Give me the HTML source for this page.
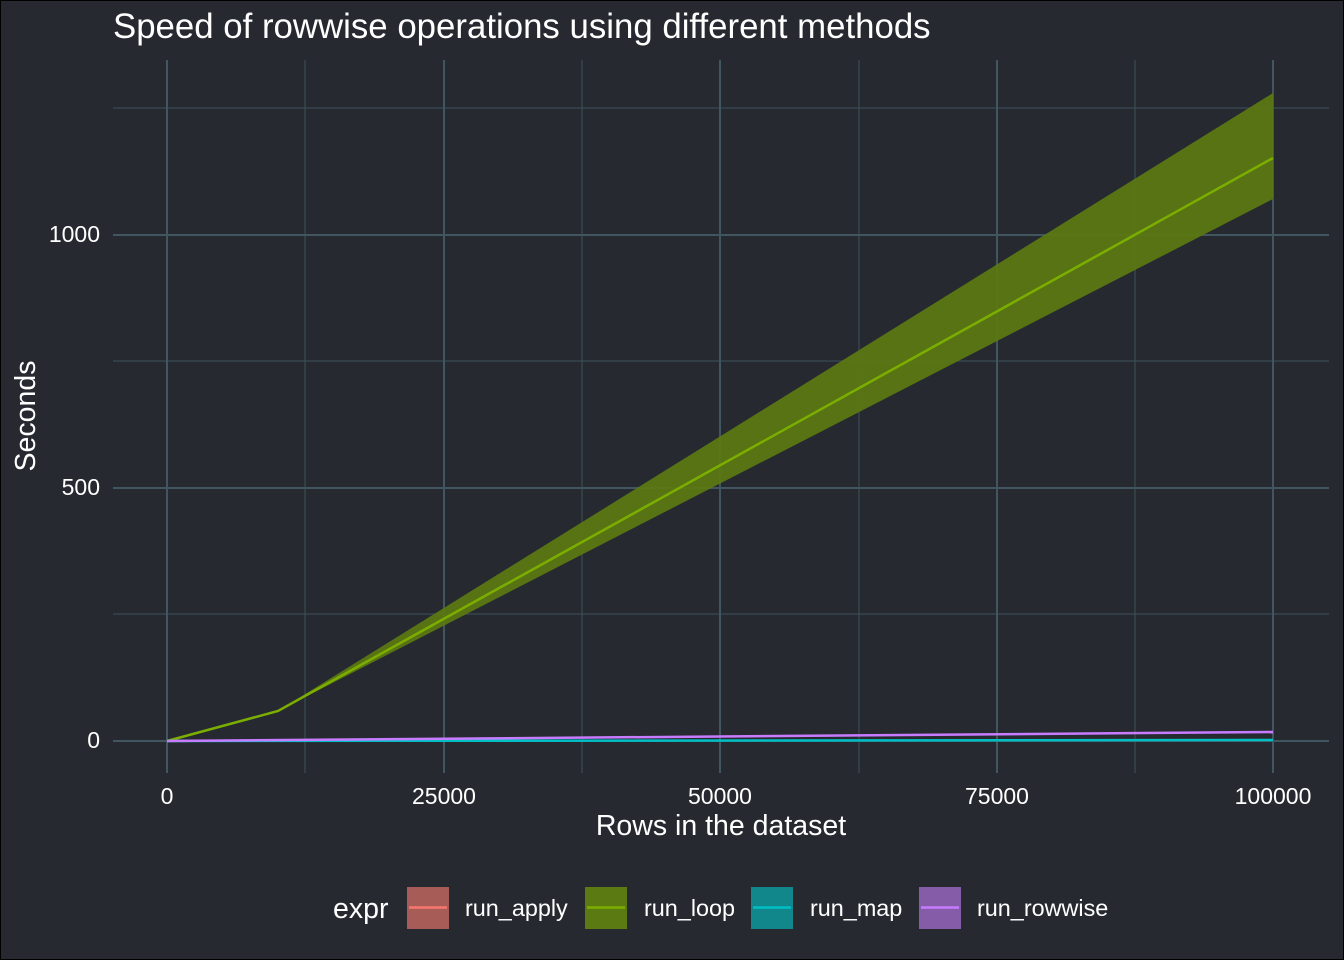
<!DOCTYPE html>
<html><head><style>
html,body{margin:0;padding:0;background:#262a30;}
svg{display:block;}
text{font-family:"Liberation Sans",sans-serif;fill:#ffffff;}
</style></head><body>
<svg width="1344" height="960" viewBox="0 0 1344 960" xmlns="http://www.w3.org/2000/svg">
<rect x="0.5" y="0.5" width="1343" height="959" fill="#262a30" stroke="#000" stroke-width="1"/>
<text x="113" y="38" font-size="34.8" style="font-size:34.8px">Speed of rowwise operations using different methods</text>
<g stroke="#3f515b" stroke-width="1">
<line x1="113" x2="1329" y1="614" y2="614"/>
<line x1="113" x2="1329" y1="361" y2="361"/>
<line x1="113" x2="1329" y1="108" y2="108"/>
<line x1="305" x2="305" y1="60" y2="773"/>
<line x1="582" x2="582" y1="60" y2="773"/>
<line x1="859" x2="859" y1="60" y2="773"/>
<line x1="1135" x2="1135" y1="60" y2="773"/>
</g>
<g stroke="#42565f" stroke-width="2">
<line x1="113" x2="1329" y1="741" y2="741"/>
<line x1="113" x2="1329" y1="488" y2="488"/>
<line x1="113" x2="1329" y1="235" y2="235"/>
<line x1="167" x2="167" y1="60" y2="773"/>
<line x1="444" x2="444" y1="60" y2="773"/>
<line x1="720" x2="720" y1="60" y2="773"/>
<line x1="997" x2="997" y1="60" y2="773"/>
<line x1="1273" x2="1273" y1="60" y2="773"/>
</g>
<polygon points="167,741 278,711 1273,93 1273,199 278,711" fill="#5c7a12" fill-opacity="0.92"/>
<polyline points="167,741 278,711 1273,158" fill="none" stroke="#7cae00" stroke-width="2.5"/>
<line x1="167" y1="741" x2="1273" y2="740" stroke="#00bfc4" stroke-width="2.5"/>
<line x1="167" y1="741" x2="1273" y2="732" stroke="#c77cff" stroke-width="2.5"/>
<g font-size="23" style="font-size:23px" fill="#fff">
<text x="100" y="748" text-anchor="end">0</text>
<text x="100" y="495" text-anchor="end">500</text>
<text x="100" y="242" text-anchor="end">1000</text>
<text x="167" y="804" text-anchor="middle">0</text>
<text x="444" y="804" text-anchor="middle">25000</text>
<text x="720" y="804" text-anchor="middle">50000</text>
<text x="997" y="804" text-anchor="middle">75000</text>
<text x="1273" y="804" text-anchor="middle">100000</text>
</g>
<text x="721" y="835" font-size="28.5" text-anchor="middle" style="font-size:28.5px">Rows in the dataset</text>
<text transform="translate(35,416) rotate(-90)" font-size="28.5" text-anchor="middle" style="font-size:28.5px">Seconds</text>
<text x="333" y="918" font-size="28.5" style="font-size:28.5px">expr</text>
<rect x="407" y="887" width="42" height="42" fill="#a85c58"/>
<line x1="409" x2="447" y1="907.5" y2="907.5" stroke="#f8766d" stroke-width="2.5"/>
<rect x="585" y="887" width="42" height="42" fill="#5c7a12"/>
<line x1="587" x2="625" y1="907.5" y2="907.5" stroke="#7cae00" stroke-width="2.5"/>
<rect x="751" y="887" width="42" height="42" fill="#11878b"/>
<line x1="753" x2="791" y1="907.5" y2="907.5" stroke="#00bfc4" stroke-width="2.5"/>
<rect x="919" y="887" width="42" height="42" fill="#845ca8"/>
<line x1="921" x2="959" y1="907.5" y2="907.5" stroke="#c77cff" stroke-width="2.5"/>
<g font-size="23.4" style="font-size:23.4px">
<text x="465" y="916">run_apply</text>
<text x="644" y="916">run_loop</text>
<text x="810" y="916">run_map</text>
<text x="977" y="916">run_rowwise</text>
</g>
</svg>
</body></html>
